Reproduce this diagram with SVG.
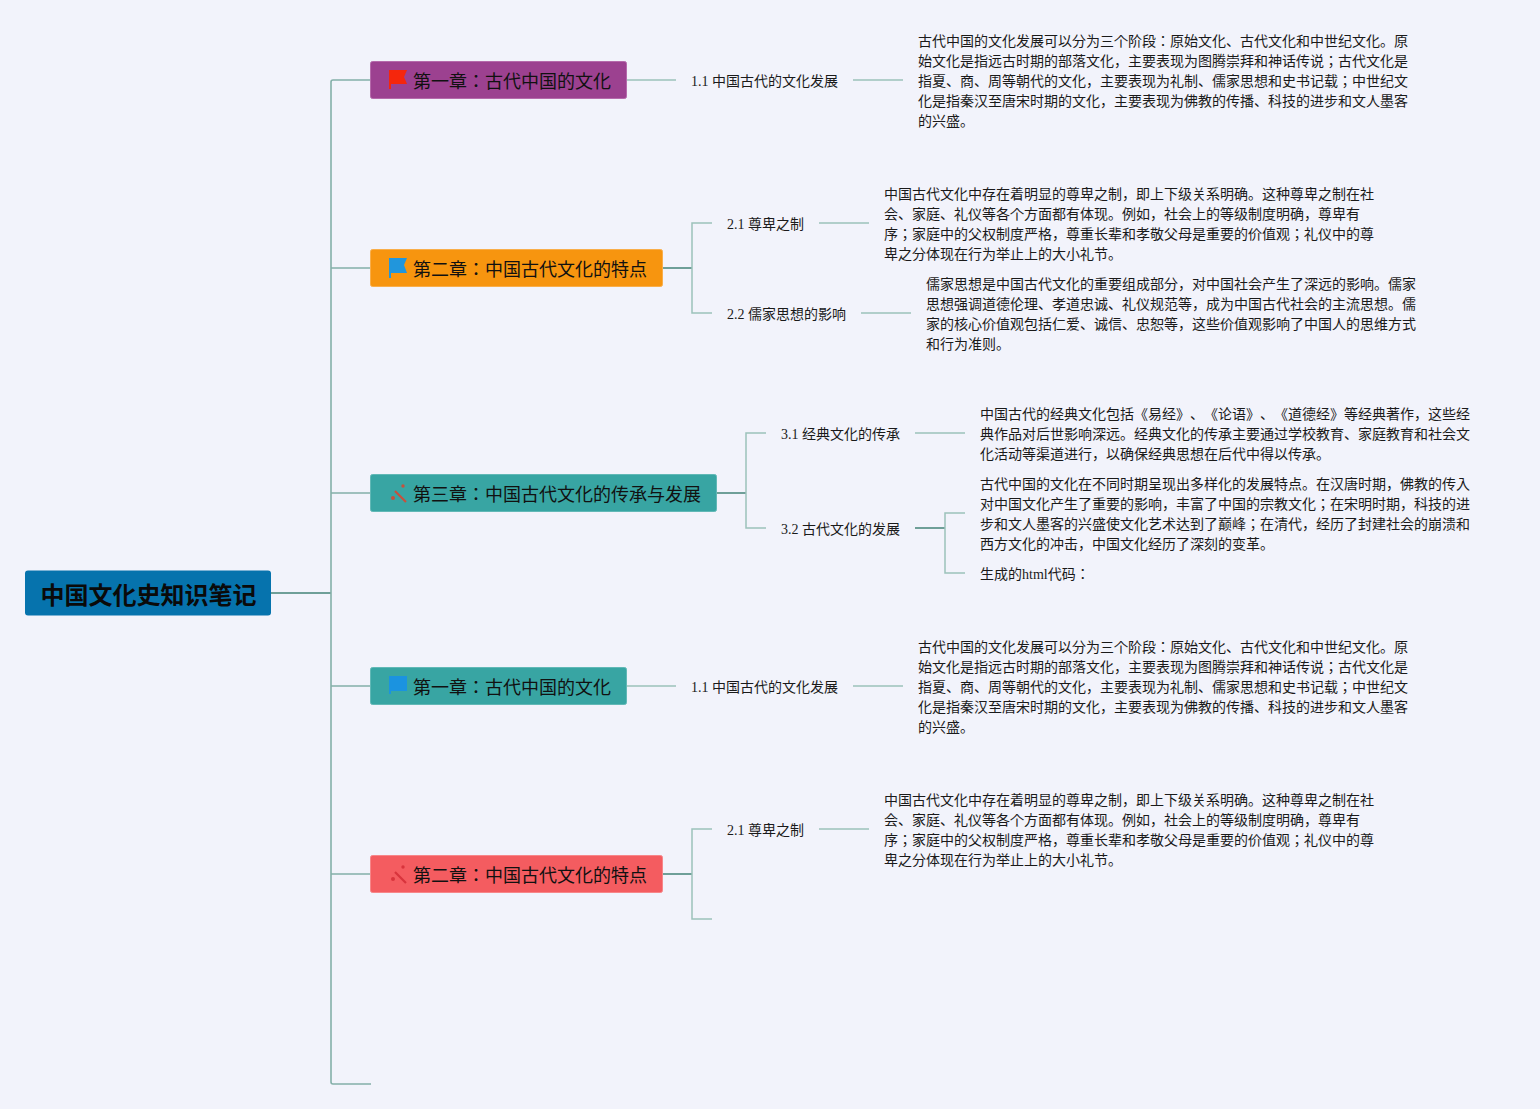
<svg xmlns="http://www.w3.org/2000/svg" width="1540" height="1109" viewBox="0 0 1540 1109">
<style>
text{font-family:"Liberation Serif","Noto Sans CJK JP",serif;fill:#1a1a1a;text-spacing-trim:space-all;font-feature-settings:"palt" 0}
.t{font-size:14px}
.s{font-size:14px}
.c{font-family:"Noto Sans CJK JP","Liberation Sans",sans-serif;font-size:18px;fill:#111}
.r{font-family:"Noto Sans CJK JP","Liberation Sans",sans-serif;font-size:24px;font-weight:700;fill:#0a0a0a}
.l{fill:none;stroke:#9cc2bb;stroke-width:1.5}
.k{fill:none;stroke:#84b0a9;stroke-width:1.6}
.d{fill:none;stroke:#6f9f98;stroke-width:2}
</style>
<defs>
<g id="wand"><path d="M5 7L16 18" stroke-width="2.2" fill="none"/><circle cx="3" cy="14" r="2" stroke="none"/><circle cx="13" cy="2" r="1.7" stroke="none"/></g>
</defs>
<rect width="1540" height="1109" fill="#f2f3fb"/>
<g id="connectors">
<path class="d" d="M271 593H331"/>
<path class="k" d="M371 80H333Q331 80 331 82V1082Q331 1084 333 1084H371M331 268H371M331 493H371M331 686H371M331 874H371"/>
<path class="l" d="M627 80H676M853 80H903"/>
<path class="d" d="M663 268H692"/>
<path class="l" d="M712 223H692V313H712M819 223H869M861 313H911"/>
<path class="d" d="M717 493H746"/>
<path class="l" d="M766 433H746V528H766M915 433H965"/>
<path class="d" d="M915 528H945"/>
<path class="l" d="M965 513H945V573H965"/>
<path class="l" d="M627 686H676M853 686H903"/>
<path class="d" d="M663 874H692"/>
<path class="l" d="M712 829H692V919H712M819 829H869"/>
</g>
<g id="root"><rect x="25" y="570.5" width="246" height="45" rx="3" fill="#0673ad"/><text class="r" x="40.5" y="603.5">中国文化史知识笔记</text></g>
<g id="ch1"><rect x="370.5" y="61.5" width="256" height="37" rx="2" fill="#9c4190" stroke="#b56aab"/><path d="M389 70h18l-3 7 3 7h-16v5h-2z" fill="#f5260c"/><text class="c" x="413" y="88">第一章：古代中国的文化</text></g>
<g id="ch2"><rect x="370.5" y="249.5" width="292" height="37" rx="2" fill="#f7950f" stroke="#f9ae4a"/><path d="M389 258h18l-3 7 3 8h-16v5h-2z" fill="#2196dc"/><text class="c" x="413" y="276">第二章：中国古代文化的特点</text></g>
<g id="ch3"><rect x="370.5" y="474.5" width="346" height="37" rx="2" fill="#38a5a3" stroke="#62b8b6"/><use href="#wand" x="390" y="484" fill="#c8503c" stroke="#c8503c"/><text class="c" x="413" y="501">第三章：中国古代文化的传承与发展</text></g>
<g id="ch4"><rect x="370.5" y="667.5" width="256" height="37" rx="2" fill="#38a5a3" stroke="#62b8b6"/><path d="M389 676h18v15h-16v3h-2z" fill="#1b93e0"/><text class="c" x="413" y="694">第一章：古代中国的文化</text></g>
<g id="ch5"><rect x="370.5" y="855.5" width="292" height="37" rx="2" fill="#f45c60" stroke="#f78689"/><use href="#wand" x="390" y="865" fill="#d8343c" stroke="#d8343c"/><text class="c" x="413" y="882">第二章：中国古代文化的特点</text></g>
<g id="n11"><text class="s" x="691" y="86">1.1 中国古代的文化发展</text></g>
<g id="t11"><text class="t" x="918" y="46">古代中国的文化发展可以分为三个阶段：原始文化、古代文化和中世纪文化。原</text><text class="t" x="918" y="66">始文化是指远古时期的部落文化，主要表现为图腾崇拜和神话传说；古代文化是</text><text class="t" x="918" y="86">指夏、商、周等朝代的文化，主要表现为礼制、儒家思想和史书记载；中世纪文</text><text class="t" x="918" y="106">化是指秦汉至唐宋时期的文化，主要表现为佛教的传播、科技的进步和文人墨客</text><text class="t" x="918" y="126">的兴盛。</text></g>
<g id="n21"><text class="s" x="727" y="229">2.1 尊卑之制</text></g>
<g id="t21"><text class="t" x="884" y="199">中国古代文化中存在着明显的尊卑之制，即上下级关系明确。这种尊卑之制在社</text><text class="t" x="884" y="219">会、家庭、礼仪等各个方面都有体现。例如，社会上的等级制度明确，尊卑有</text><text class="t" x="884" y="239">序；家庭中的父权制度严格，尊重长辈和孝敬父母是重要的价值观；礼仪中的尊</text><text class="t" x="884" y="259">卑之分体现在行为举止上的大小礼节。</text></g>
<g id="n22"><text class="s" x="727" y="319">2.2 儒家思想的影响</text></g>
<g id="t22"><text class="t" x="926" y="289">儒家思想是中国古代文化的重要组成部分，对中国社会产生了深远的影响。儒家</text><text class="t" x="926" y="309">思想强调道德伦理、孝道忠诚、礼仪规范等，成为中国古代社会的主流思想。儒</text><text class="t" x="926" y="329">家的核心价值观包括仁爱、诚信、忠恕等，这些价值观影响了中国人的思维方式</text><text class="t" x="926" y="349">和行为准则。</text></g>
<g id="n31"><text class="s" x="781" y="439">3.1 经典文化的传承</text></g>
<g id="t31"><text class="t" x="980" y="419">中国古代的经典文化包括《易经》、《论语》、《道德经》等经典著作，这些经</text><text class="t" x="980" y="439">典作品对后世影响深远。经典文化的传承主要通过学校教育、家庭教育和社会文</text><text class="t" x="980" y="459">化活动等渠道进行，以确保经典思想在后代中得以传承。</text></g>
<g id="n32"><text class="s" x="781" y="534">3.2 古代文化的发展</text></g>
<g id="t32"><text class="t" x="980" y="489">古代中国的文化在不同时期呈现出多样化的发展特点。在汉唐时期，佛教的传入</text><text class="t" x="980" y="509">对中国文化产生了重要的影响，丰富了中国的宗教文化；在宋明时期，科技的进</text><text class="t" x="980" y="529">步和文人墨客的兴盛使文化艺术达到了巅峰；在清代，经历了封建社会的崩溃和</text><text class="t" x="980" y="549">西方文化的冲击，中国文化经历了深刻的变革。</text></g>
<g id="t33"><text class="t" x="980" y="579">生成的html代码：</text></g>
<g id="n41"><text class="s" x="691" y="692">1.1 中国古代的文化发展</text></g>
<g id="t41"><text class="t" x="918" y="652">古代中国的文化发展可以分为三个阶段：原始文化、古代文化和中世纪文化。原</text><text class="t" x="918" y="672">始文化是指远古时期的部落文化，主要表现为图腾崇拜和神话传说；古代文化是</text><text class="t" x="918" y="692">指夏、商、周等朝代的文化，主要表现为礼制、儒家思想和史书记载；中世纪文</text><text class="t" x="918" y="712">化是指秦汉至唐宋时期的文化，主要表现为佛教的传播、科技的进步和文人墨客</text><text class="t" x="918" y="732">的兴盛。</text></g>
<g id="n51"><text class="s" x="727" y="835">2.1 尊卑之制</text></g>
<g id="t51"><text class="t" x="884" y="805">中国古代文化中存在着明显的尊卑之制，即上下级关系明确。这种尊卑之制在社</text><text class="t" x="884" y="825">会、家庭、礼仪等各个方面都有体现。例如，社会上的等级制度明确，尊卑有</text><text class="t" x="884" y="845">序；家庭中的父权制度严格，尊重长辈和孝敬父母是重要的价值观；礼仪中的尊</text><text class="t" x="884" y="865">卑之分体现在行为举止上的大小礼节。</text></g>
</svg>
